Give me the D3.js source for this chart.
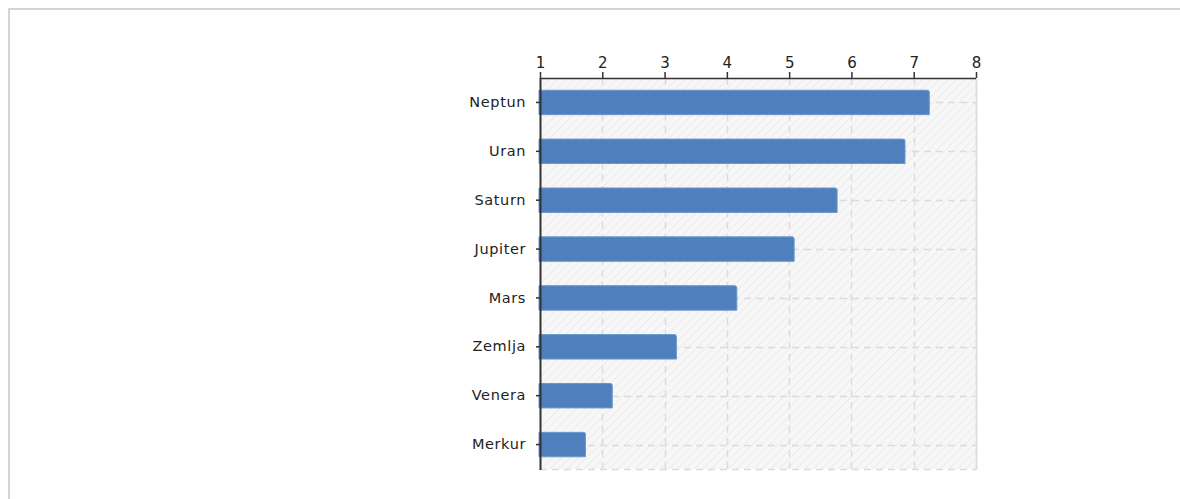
<!DOCTYPE html>
<html>
<head>
<meta charset="utf-8">
<script src="https://cdn.jsdelivr.net/npm/d3@7"></script>
<style>
  body { margin: 0; background: #fff; }
  svg { display: block; }
</style>
</head>
<body>
<div class="chart"></div>
<script>
const planets = ["Neptun", "Uran", "Saturn", "Jupiter", "Mars", "Zemlja", "Venera", "Merkur"];
const values = [7.25, 6.86, 5.77, 5.08, 4.16, 3.19, 2.16, 1.73];
const xTicks = [1, 2, 3, 4, 5, 6, 7, 8];

const W = 1180, H = 499;
const plot = { left: 540, right: 976, top: 78, bottom: 469 };

const svg = d3.select(".chart").append("svg")
  .attr("width", W)
  .attr("height", H);

// hatch fill for the plot background
const defs = svg.append("defs");
const hatch = defs.append("pattern")
  .attr("id", "hatch")
  .attr("patternUnits", "userSpaceOnUse")
  .attr("width", 6)
  .attr("height", 6)
  .attr("patternTransform", "rotate(45)");
hatch.append("rect").attr("width", 6).attr("height", 6).attr("fill", "#f7f7f7");
hatch.append("line")
  .attr("x1", 0).attr("y1", 0).attr("x2", 0).attr("y2", 6)
  .attr("stroke", "#ececec").attr("stroke-width", 2);

// outer frame
svg.append("rect")
  .attr("x", 9).attr("y", 9)
  .attr("width", W + 20).attr("height", H + 20)
  .attr("fill", "none")
  .attr("stroke", "#d4d4d4")
  .attr("stroke-width", 2);

const x = d3.scaleLinear().domain([1, 8]).range([plot.left, plot.right]);
const y = d3.scaleBand()
  .domain(planets)
  .range([plot.top, plot.bottom])
  .paddingInner(0.5)
  .paddingOuter(0.25);

svg.append("rect")
  .attr("x", plot.left).attr("y", plot.top)
  .attr("width", plot.right - plot.left)
  .attr("height", plot.bottom - plot.top)
  .attr("fill", "url(#hatch)");

// grid
const grid = svg.append("g").attr("stroke", "#dcdcdc").attr("stroke-width", 1.5).attr("stroke-dasharray", "7,5");
grid.selectAll(".vg").data(xTicks.slice(1)).join("line")
  .attr("x1", d => Math.round(x(d)) + 0.5).attr("x2", d => Math.round(x(d)) + 0.5)
  .attr("y1", plot.top).attr("y2", plot.bottom);
grid.selectAll(".hg").data(planets).join("line")
  .attr("x1", plot.left).attr("x2", plot.right)
  .attr("y1", d => Math.round(y(d) + y.bandwidth() / 2) + 0.5)
  .attr("y2", d => Math.round(y(d) + y.bandwidth() / 2) + 0.5);
grid.append("line")
  .attr("x1", plot.left).attr("x2", plot.right)
  .attr("y1", plot.bottom + 0.5).attr("y2", plot.bottom + 0.5);

svg.append("line")
  .attr("x1", plot.right + 0.5).attr("x2", plot.right + 0.5)
  .attr("y1", plot.top).attr("y2", plot.bottom + 1)
  .attr("stroke", "#dcdcdc").attr("stroke-width", 1.5);

// bars
svg.append("g").selectAll("path").data(planets).join("path")
  .attr("d", (d, i) => {
    const x0 = x(1) - 1, x1 = x(values[i]);
    const y0 = y(d), h = y.bandwidth(), r = 2;
    return `M${x0},${y0}H${x1 - r}Q${x1},${y0} ${x1},${y0 + r}V${y0 + h}H${x0}Z`;
  })
  .attr("fill", "#4f80bd")
  .attr("stroke", "#6b97cc")
  .attr("stroke-width", 1);

// axes
const font = "'DejaVu Sans', Verdana, sans-serif";

const xAxis = svg.append("g")
  .attr("transform", `translate(0,${plot.top})`)
  .call(d3.axisTop(x).tickValues(xTicks).tickFormat(d3.format("d")).tickSize(6).tickPadding(4));
xAxis.select(".domain").attr("stroke", "#333").attr("stroke-width", 1.5).attr("d", `M${plot.left},0.5H${plot.right}`);
xAxis.selectAll(".tick line").attr("stroke", "#333").attr("stroke-width", 1.5);
xAxis.selectAll("text").attr("font-family", font).attr("font-size", 15).attr("fill", "#222");

const yAxis = svg.append("g")
  .attr("transform", `translate(${plot.left},0)`)
  .call(d3.axisLeft(y).tickSize(4).tickPadding(10));
yAxis.select(".domain").attr("stroke", "#333").attr("stroke-width", 2)
  .attr("d", `M0.5,${plot.top}V${plot.bottom + 1}`);
yAxis.selectAll(".tick line").attr("stroke", "#333").attr("stroke-width", 1.5);
yAxis.selectAll("text").attr("font-family", font).attr("font-size", 14.5)
  .attr("letter-spacing", 0.6).attr("fill", "#222");
</script>
</body>
</html>
